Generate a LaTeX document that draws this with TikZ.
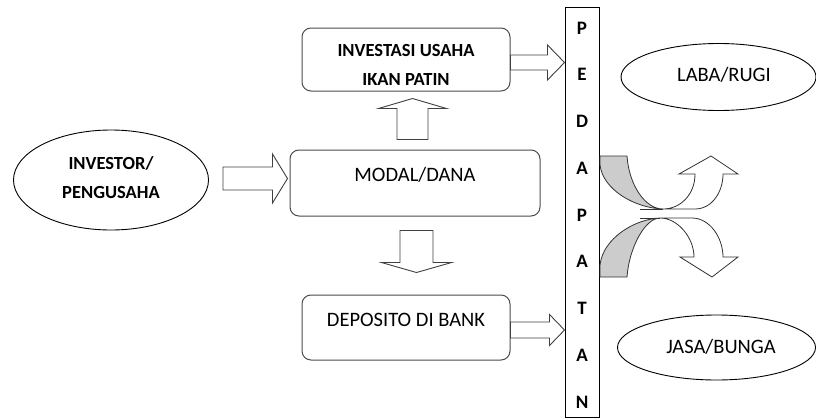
\documentclass[tikz,border=0pt]{standalone}
\usepackage{fontspec}
\setmainfont{Carlito}
\usetikzlibrary{calc,shapes.geometric}
\newcommand\fontBold{\bfseries\fontsize{18.5}{29}\selectfont}
\newcommand\fontReg{\fontsize{20.5}{24}\selectfont}
\newcommand\fontCol{\bfseries\fontsize{19}{46.75}\selectfont}
% rightward block arrow: start, tip, shaft half, head half, head length
\newcommand\rblk[5]{\draw[blk] let \p1=(#1), \p2=(#2) in (\x1,\y1+#3) -- (\x2-#5,\y1+#3) -- (\x2-#5,\y1+#4) -- (\x2,\y1) -- (\x2-#5,\y1-#4) -- (\x2-#5,\y1-#3) -- (\x1,\y1-#3) -- cycle;}
% upward block arrow
\newcommand\ublk[5]{\draw[blk] let \p1=(#1), \p2=(#2) in (\x1-#3,\y1) -- (\x1-#3,\y2-#5) -- (\x1-#4,\y2-#5) -- (\x1,\y2) -- (\x1+#4,\y2-#5) -- (\x1+#3,\y2-#5) -- (\x1+#3,\y1) -- cycle;}
% downward block arrow
\newcommand\dblk[5]{\draw[blk] let \p1=(#1), \p2=(#2) in (\x1-#3,\y1) -- (\x1-#3,\y2+#5) -- (\x1-#4,\y2+#5) -- (\x1,\y2) -- (\x1+#4,\y2+#5) -- (\x1+#3,\y2+#5) -- (\x1+#3,\y1) -- cycle;}
\begin{document}
\begin{tikzpicture}[x=1pt,y=-1pt,
  boxs/.style={draw=black!70, line width=1pt, rounded corners=9pt, inner sep=0pt},
  ell/.style={draw=black, line width=0.9pt, ellipse, inner sep=0pt},
  blk/.style={draw=black!75, line width=0.9pt, fill=white, line join=miter},
  curv/.style={draw=black!80, line width=0.8pt},
  txt/.style={inner sep=0pt, align=center, text=black},
]
\useasboundingbox[fill=white] (0,0) rectangle (816,418);
\node[ell, minimum width=195pt, minimum height=100pt] (investor) at (111,180) {};
\node[txt, font=\fontBold] (investorT) at (111,177.5) {INVESTOR/\\PENGUSAHA};
\node[boxs, minimum width=208pt, minimum height=63pt] (invest) at (406,59.5) {};
\node[txt, font=\fontBold] (investT) at (406,65) {INVESTASI USAHA\\IKAN PATIN};
\node[boxs, minimum width=250pt, minimum height=66pt] (modal) at (415,183) {};
\node[txt, font=\fontReg] (modalT) at (415,175) {MODAL/DANA};
\node[boxs, minimum width=208pt, minimum height=65pt] (deposito) at (406,327.5) {};
\node[txt, font=\fontReg] (depositoT) at (406,320) {DEPOSITO DI BANK};
\node[draw=black, line width=1pt, minimum width=34pt, minimum height=410pt, inner sep=0pt] (col) at (582,212) {};
\node[txt, font=\fontCol] (colT) at (582,215) {P\\E\\D\\A\\P\\A\\T\\A\\N};
\node[ell, minimum width=195pt, minimum height=67pt] (laba) at (718.5,77) {};
\node[txt, font=\fontReg] (labaT) at (724,75) {LABA/RUGI};
\node[ell, minimum width=198pt, minimum height=65pt] (jasa) at (716.5,347.5) {};
\node[txt, font=\fontReg] (jasaT) at (721,347) {JASA/BUNGA};
% block arrows
\rblk{$(investor.east)+(14,-1.5)$}{$(modal.west)+(-2,0)$}{11.5pt}{24.5pt}{15pt}
\rblk{$(invest.east)+(0,3)$}{col.west}{7.5pt}{17.5pt}{17pt}
\rblk{$(deposito.east)+(0,2.5)$}{col.west}{8pt}{15.5pt}{15pt}
\ublk{$(modal.north)+(-2.5,-10)$}{$(invest.south)+(0,7)$}{15.5pt}{34pt}{10pt}
\dblk{$(modal.south)+(1.5,14)$}{$(deposito.north)+(0,-22)$}{16.5pt}{35pt}{10pt}
% curved arrows (upper)
\draw[curv, fill=gray!40] (600,156) -- (627,156) .. controls (629,185) and (645,209) .. (663,209) .. controls (635,208) and (603,190) .. (600,165) -- cycle;
\draw[curv, fill=white] (663,209) -- (695,209) .. controls (712,209) and (723,192) .. (723,174) -- (738,174) -- (711,156) -- (679,174) -- (695,174) .. controls (695,195) and (680,209) .. (663,209) -- cycle;
\draw[curv] (640,209) -- (663,209);
% curved arrows (lower)
\draw[curv, fill=gray!40] (600,277) -- (627,277) .. controls (629,248) and (645,218) .. (660,218) .. controls (635,219) and (603,238) .. (600,265) -- cycle;
\draw[curv, fill=white] (660,218) -- (692,218) .. controls (710,218) and (723,238) .. (723,257) -- (738,257) -- (712,277) -- (680,257) -- (694,257) .. controls (694,238) and (678,218) .. (660,218) -- cycle;
\draw[curv] (640,218) -- (660,218);
\end{tikzpicture}
\end{document}
